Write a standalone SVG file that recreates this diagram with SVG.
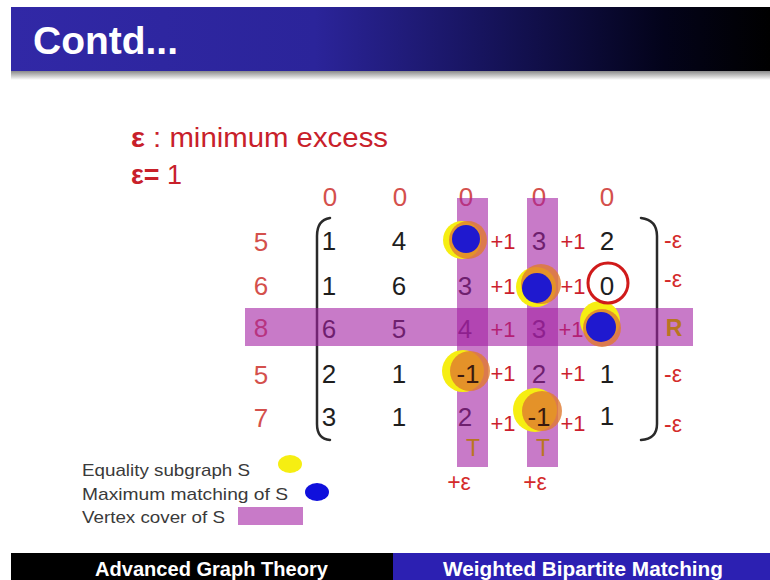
<svg xmlns="http://www.w3.org/2000/svg" width="770" height="580" viewBox="0 0 770 580">
<defs>
<linearGradient id="hdr" x1="0" y1="0" x2="1" y2="0">
<stop offset="0" stop-color="#3128a6"/>
<stop offset="0.4" stop-color="#2b249a"/>
<stop offset="0.62" stop-color="#17145e"/>
<stop offset="0.86" stop-color="#03031a"/>
<stop offset="1" stop-color="#000000"/>
</linearGradient>
<linearGradient id="shadow" x1="0" y1="0" x2="0" y2="1">
<stop offset="0" stop-color="#8a8a8a"/>
<stop offset="1" stop-color="#ffffff"/>
</linearGradient>
<style>
text{font-family:"Liberation Sans",Arial,sans-serif}
.num{font-size:26px;fill:#1e1e1e;text-anchor:middle}
.lab{font-size:26px;fill:#d4504c;text-anchor:middle}
.plus{font-size:22px;fill:#cc1f2f;text-anchor:middle}
.eps{font-size:23px;fill:#d42a2a;text-anchor:middle}
.ochre{font-size:23px;fill:#b87620;text-anchor:middle}
.band{fill:#a422a4;opacity:0.6}
.yel{fill:#f6ee12}
.org{fill:#e07a30;opacity:0.8}
.blu{fill:#1010dc;opacity:0.93}
.brk{fill:none;stroke:#2a2a2a;stroke-width:2.5;stroke-linecap:round}
.leg{font-size:17px;fill:#3a3a3a}
</style>
</defs>
<rect width="770" height="580" fill="#ffffff"/>

<g id="header">
<rect x="11" y="7" width="759" height="64" fill="url(#hdr)"/>
<rect x="11" y="71" width="759" height="9" fill="url(#shadow)"/>
<text x="33" y="54" font-size="39" font-weight="bold" fill="#ffffff" textLength="145" lengthAdjust="spacingAndGlyphs">Contd...</text>
</g>

<g id="definition">
<text x="131" y="147" font-size="27" fill="#c8202a" textLength="257" lengthAdjust="spacingAndGlyphs"><tspan font-weight="bold">ε</tspan> : minimum excess</text>
<text x="131" y="184" font-size="27" fill="#c8202a" textLength="51" lengthAdjust="spacingAndGlyphs"><tspan font-weight="bold">ε=</tspan> 1</text>
</g>

<g id="column-labels">
<text class="lab" x="330" y="206">0</text>
<text class="lab" x="400" y="206">0</text>
<text class="lab" x="466" y="206">0</text>
<text class="lab" x="539" y="206">0</text>
<text class="lab" x="607" y="206">0</text>
</g>

<g id="row-labels">
<text class="lab" x="261" y="251">5</text>
<text class="lab" x="261" y="295">6</text>
<text class="lab" x="261" y="337">8</text>
<text class="lab" x="261" y="384">5</text>
<text class="lab" x="261" y="427">7</text>
</g>

<g id="brackets">
<path class="brk" d="M330,218 Q317,220 317,236 L317,424 Q317,439 330,440"/>
<path class="brk" d="M641,218 Q657,220 657,236 L657,424 Q657,439 641,440"/>
</g>

<g id="matrix">
<text class="num" x="329" y="250">1</text>
<text class="num" x="399" y="250">4</text>
<text class="num" x="467" y="250">-1</text>
<text class="num" x="539" y="250">3</text>
<text class="num" x="607" y="250">2</text>

<text class="num" x="329" y="295">1</text>
<text class="num" x="399" y="295">6</text>
<text class="num" x="465" y="295">3</text>
<text class="num" x="539" y="295">-1</text>
<text class="num" x="607" y="295">0</text>

<text class="num" x="329" y="338">6</text>
<text class="num" x="399" y="338">5</text>
<text class="num" x="465" y="338">4</text>
<text class="num" x="539" y="338">3</text>
<text class="num" x="604" y="338">0</text>

<text class="num" x="329" y="383">2</text>
<text class="num" x="399" y="383">1</text>
<text class="num" x="539" y="383">2</text>
<text class="num" x="607" y="383">1</text>

<text class="num" x="329" y="426">3</text>
<text class="num" x="399" y="426">1</text>
<text class="num" x="465" y="426">2</text>
<text class="num" x="607" y="425">1</text>
</g>

<g id="increments">
<text class="plus" x="503" y="249">+1</text>
<text class="plus" x="573" y="249">+1</text>
<text class="plus" x="503" y="294">+1</text>
<text class="plus" x="573" y="294">+1</text>
<text class="plus" x="503" y="337">+1</text>
<text class="plus" x="571" y="337">+1</text>
<text class="plus" x="503" y="381">+1</text>
<text class="plus" x="573" y="381">+1</text>
<text class="plus" x="503" y="431">+1</text>
<text class="plus" x="573" y="431">+1</text>
</g>

<g id="vertex-cover">
<rect class="band" x="457" y="198" width="31" height="269"/>
<rect class="band" x="527" y="198" width="31" height="269"/>
<rect class="band" x="245" y="308" width="448" height="38"/>
</g>

<g id="equality-subgraph">
<circle class="yel" cx="462" cy="240" r="19"/>
<circle class="org" cx="468" cy="240" r="19"/>
<circle class="yel" cx="536" cy="287" r="20"/>
<circle class="org" cx="541" cy="284" r="20"/>
<circle class="yel" cx="600" cy="321" r="20"/>
<circle class="org" cx="602" cy="328" r="19"/>
<circle class="yel" cx="463" cy="371" r="21"/>
<circle class="org" cx="470" cy="371" r="20"/>
<circle class="yel" cx="535" cy="410" r="22"/>
<circle class="org" cx="542" cy="411" r="20"/>
<text class="num" x="468" y="383" style="fill:#3a1a10">-1</text>
<text class="num" x="539" y="426" style="fill:#3a1a10">-1</text>
</g>

<g id="matching">
<circle class="blu" cx="466" cy="239" r="14"/>
<circle class="blu" cx="537" cy="288" r="15"/>
<circle class="blu" cx="601" cy="327" r="15"/>
</g>

<g id="marked-zero">
<circle cx="608" cy="283" r="20" fill="none" stroke="#d01a1a" stroke-width="3"/>
</g>

<g id="side-labels">
<text class="eps" x="673" y="248">-ε</text>
<text class="eps" x="673" y="287">-ε</text>
<text class="ochre" x="674" y="336" font-weight="bold">R</text>
<text class="eps" x="673" y="382">-ε</text>
<text class="eps" x="673" y="432">-ε</text>
<text class="ochre" x="473" y="456">T</text>
<text class="ochre" x="543" y="456">T</text>
<text class="eps" x="459" y="490">+ε</text>
<text class="eps" x="535" y="490">+ε</text>
</g>

<g id="legend">
<text class="leg" x="82" y="476" textLength="168" lengthAdjust="spacingAndGlyphs">Equality subgraph S</text>
<ellipse cx="290" cy="464" rx="12" ry="9" fill="#f6ee12"/>
<text class="leg" x="82" y="500" textLength="206" lengthAdjust="spacingAndGlyphs">Maximum matching  of S</text>
<ellipse cx="317" cy="492" rx="12" ry="9" fill="#1010dc"/>
<text class="leg" x="82" y="523" textLength="143" lengthAdjust="spacingAndGlyphs">Vertex cover of S</text>
<rect x="238" y="507" width="65" height="18" fill="#c87ac8"/>
</g>

<g id="footer">
<rect x="11" y="553" width="382" height="27" fill="#000000"/>
<rect x="393" y="553" width="377" height="27" fill="#2c20b2"/>
<text x="95" y="576" font-size="21" font-weight="bold" fill="#ffffff" textLength="233" lengthAdjust="spacingAndGlyphs">Advanced Graph Theory</text>
<text x="443" y="576" font-size="21" font-weight="bold" fill="#ffffff" textLength="280" lengthAdjust="spacingAndGlyphs">Weighted Bipartite Matching</text>
</g>
</svg>
